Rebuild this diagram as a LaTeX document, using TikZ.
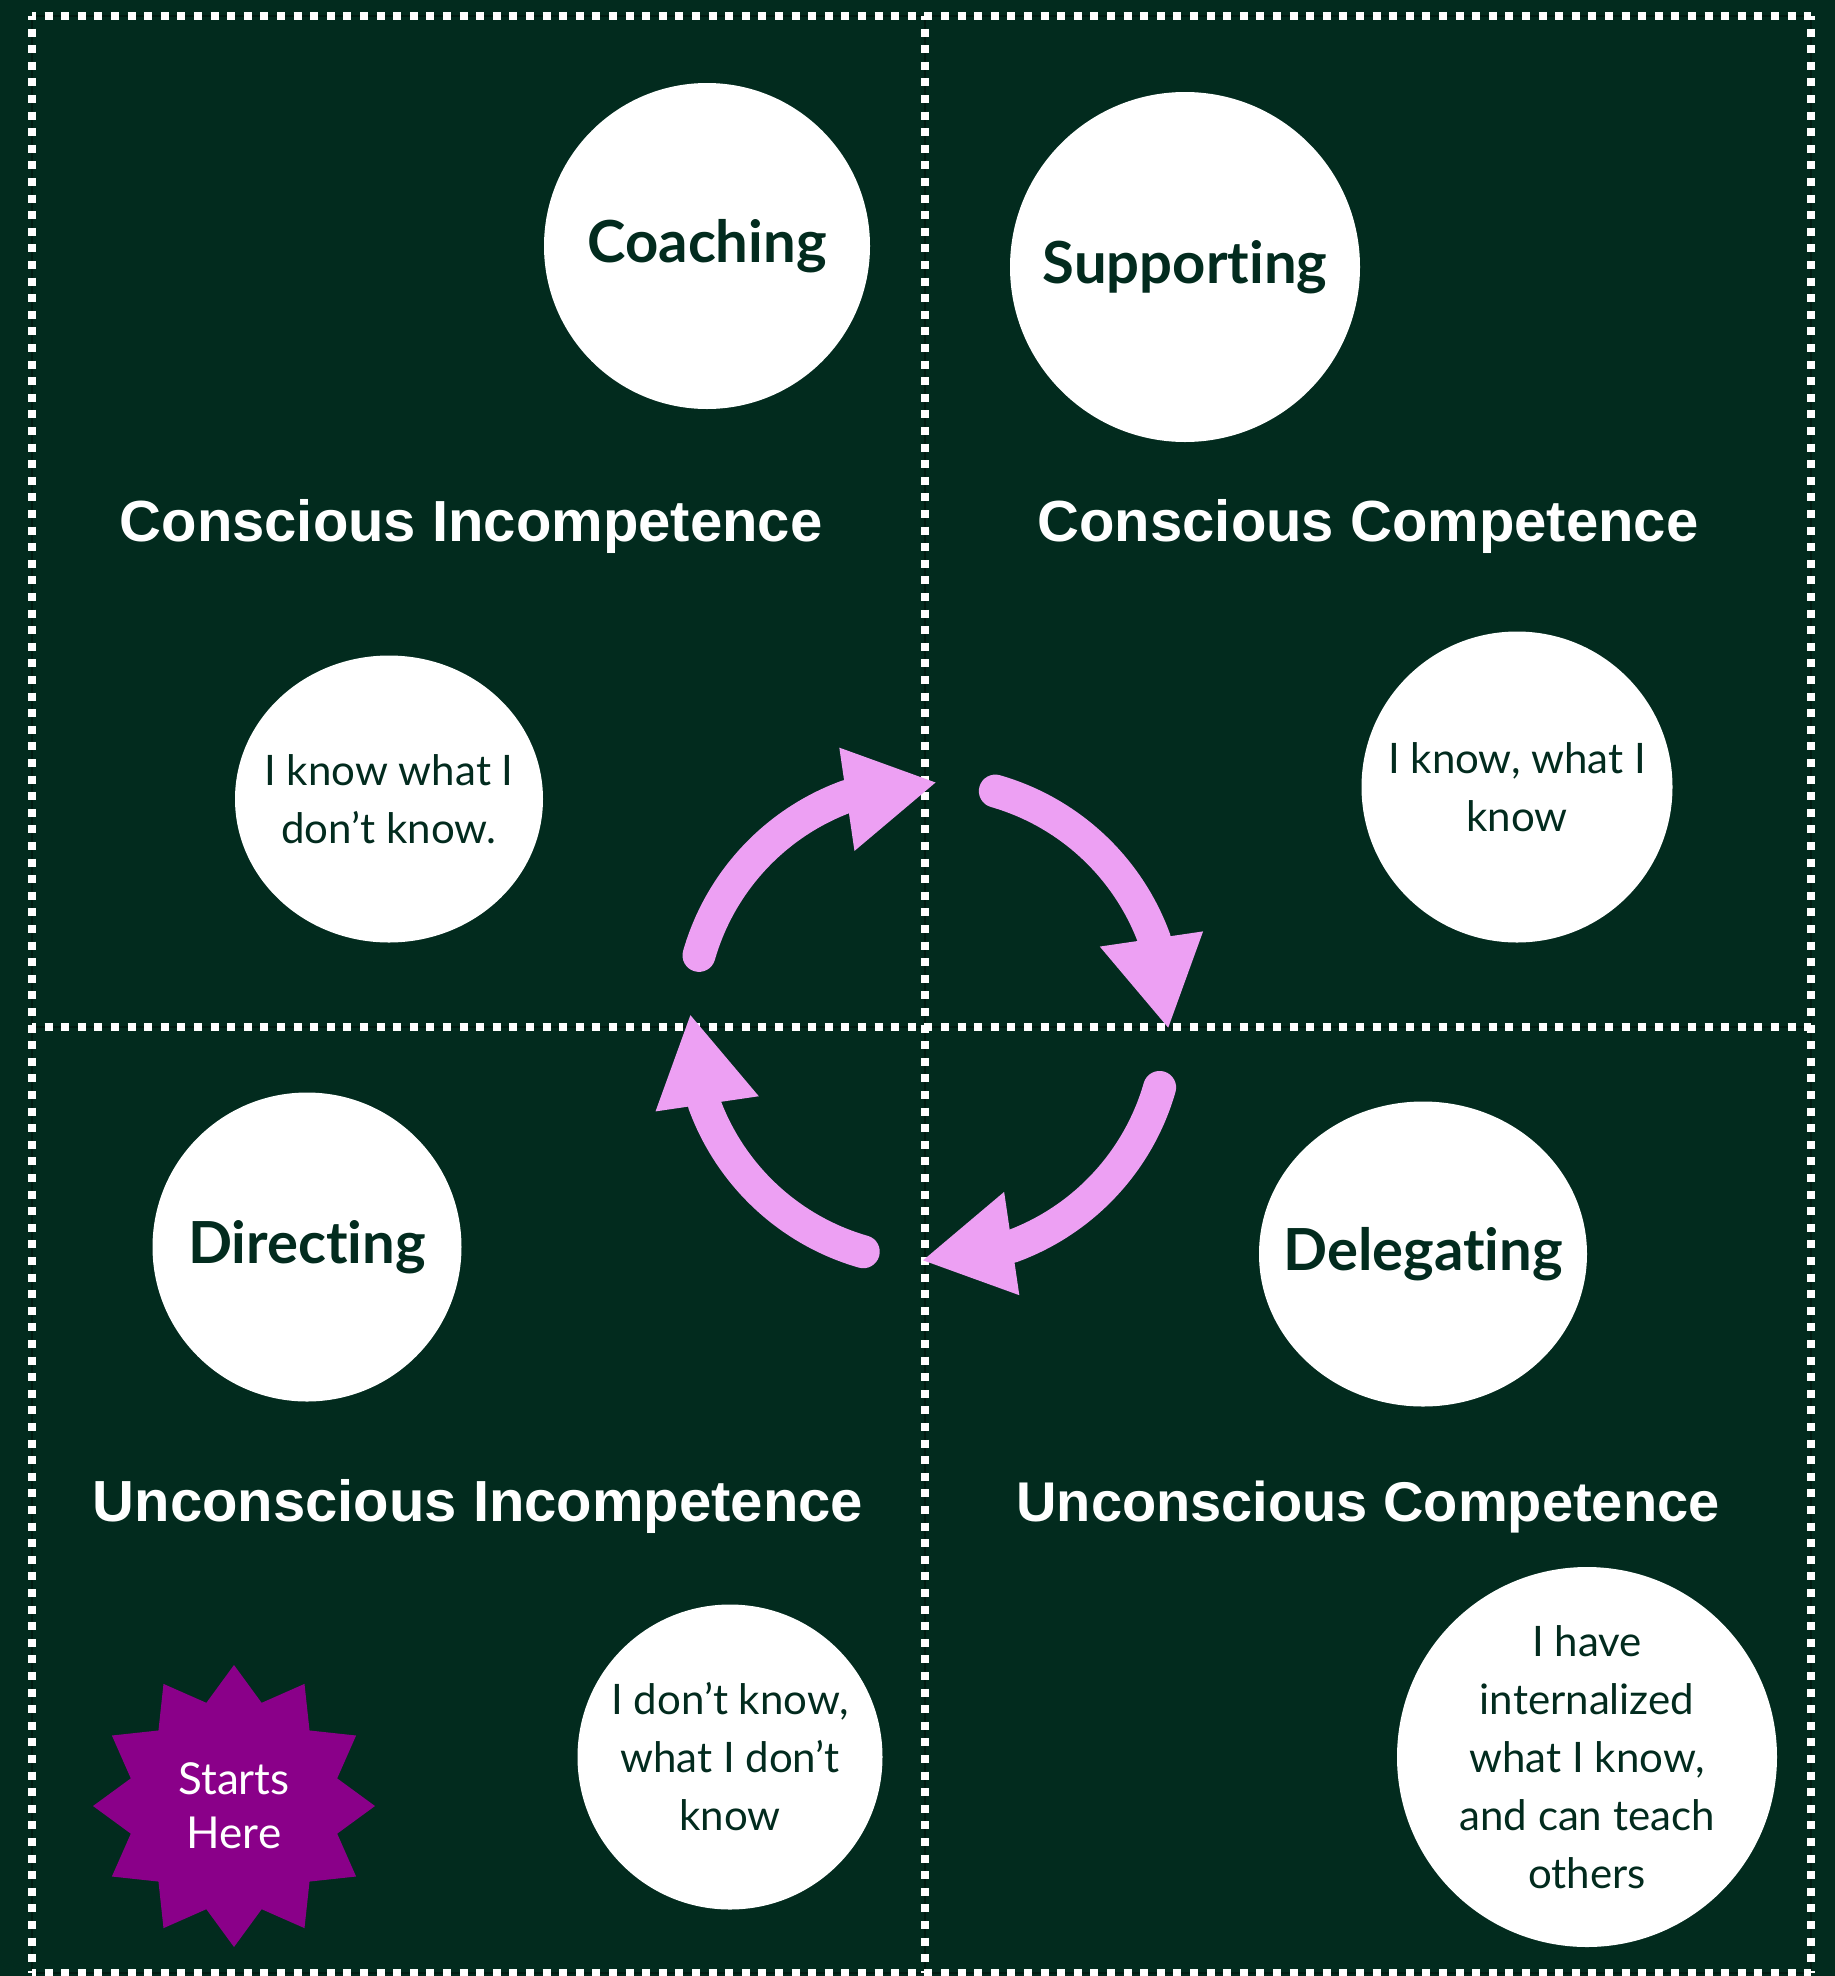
\documentclass[tikz,border=0pt]{standalone}
\usepackage{fontspec}
\setmainfont{Lato}[Ligatures={NoCommon,NoRare,NoContextual}]
\newfontfamily\headfont{Liberation Sans}[BoldFont={Liberation Sans Bold}]
\usetikzlibrary{shapes.geometric}
\definecolor{bg}{HTML}{022B1E}
\definecolor{darkline}{HTML}{011A11}
\definecolor{ink}{HTML}{022B1E}
\definecolor{pinkc}{HTML}{EDA0F3}
\definecolor{starc}{HTML}{8A0089}
\tikzset{
  dotline/.style={draw=white, line width=8pt, dash pattern=on 8pt off 8.6pt, dash phase=4pt},
  thinline/.style={draw=darkline, line width=1.5pt},
  bubble/.style={circle, fill=white, draw=none, inner sep=0pt, text=ink, align=center},
  ebubble/.style={ellipse, fill=white, draw=none, inner sep=0pt},
  plaintext/.style={text=ink, align=center, inner sep=0pt},
  titletext/.style={font=\fontsize{58}{70}\selectfont\bfseries},
  smalltext/.style={font=\fontsize{42}{58}\selectfont},
  heading/.style={text=white, anchor=base, font=\headfont\bfseries\fontsize{58}{70}\selectfont},
  cycarc/.style={draw=pinkc, line width=33pt, line cap=round},
}
\begin{document}
\begin{tikzpicture}[x=1pt,y=-1pt]
\fill[bg] (0,0) rectangle (1835,1976);
\useasboundingbox (0,0) rectangle (1835,1976);

% frame and cross
\draw[thinline] (32,16) rectangle (1811,1973);
\draw[thinline] (925,16) -- (925,1973);
\draw[thinline] (32,1027) -- (1811,1027);
\draw[dotline] (32,16) -- (1811,16);
\draw[dotline] (32,1973) -- (1811,1973);
\draw[dotline] (32,16) -- (32,1973);
\draw[dotline] (1811,16) -- (1811,1973);
\draw[dotline] (925,16) -- (925,1973);
\draw[dotline] (32,1027) -- (1811,1027);

% headings
\node[heading] (hci) at (471,541) {Conscious Incompetence};
\node[heading] (hcc) at (1368,541) {Conscious Competence};
\node[heading] (hui) at (478,1521) {Unconscious Incompetence};
\node[heading, font=\headfont\bfseries\fontsize{56}{70}\selectfont] (huc) at (1368,1521) {Unconscious Competence};

% title circles
\node[bubble, titletext, minimum size=326pt] (coach) at (707,246) {Coaching};
\node[bubble, titletext, minimum size=350pt] (support) at (1185,267) {Supporting};
\node[bubble, titletext, minimum size=309pt] (direct) at (307,1247) {Directing};
\node[ebubble, minimum width=328pt, minimum height=305pt] (delegate) at (1423,1254) {};
\node[plaintext, titletext] (delegatet) at (delegate) {Delegating};

% statement circles
\node[ebubble, minimum width=308pt, minimum height=287pt] (s1) at (389,799) {};
\node[plaintext, smalltext] (s1t) at (s1) {I know what I\\don’t know.};
\node[bubble, smalltext, minimum size=311pt] (s2) at (1517,787) {I know, what I\\know};
\node[bubble, smalltext, minimum size=305pt] (s3) at (730,1757) {I don’t know,\\what I don’t\\know};
\node[bubble, smalltext, minimum size=380pt] (s4) at (1587,1757) {I have\\internalized\\what I know,\\and can teach\\others};

% start star
\node[star, star points=12, star point ratio=1.32, minimum size=282pt, fill=starc, draw=none, inner sep=0pt, text=white, align=center, font=\fontsize{44}{54}\selectfont] (start) at (234,1806) {Starts\\Here};

% cycle arrows
\foreach \k in {0,1,2,3}{
  \begin{scope}[shift={(929.3,1021.4)}, rotate=-90*\k]
    \draw[cycarc] (-164:239.6) arc[start angle=-164, end angle=-110, radius=239.6];
    \fill[pinkc] (-108.2:288.2) -- (-88.5:239) -- (-113.7:186.2) -- cycle;
  \end{scope}
}
\end{tikzpicture}
\end{document}
